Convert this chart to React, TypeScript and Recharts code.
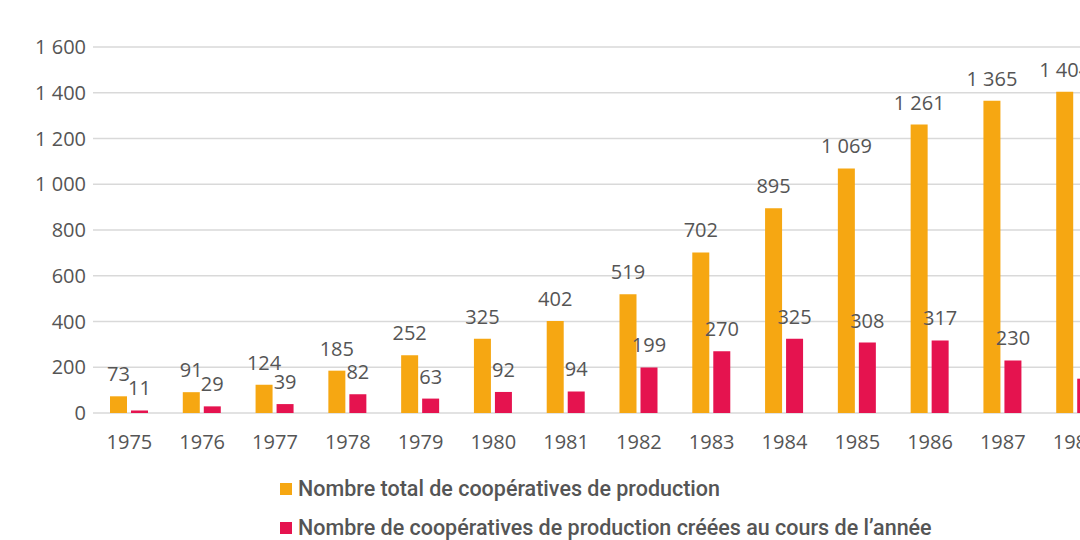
import { BarChart, Bar, XAxis, YAxis, CartesianGrid, LabelList } from 'recharts';

const years = ['1975', '1976', '1977', '1978', '1979', '1980', '1981', '1982', '1983', '1984', '1985', '1986', '1987', '1988'];
const totalCoops = [73, 91, 124, 185, 252, 325, 402, 519, 702, 895, 1069, 1261, 1365, 1404];
const newCoops = [11, 29, 39, 82, 63, 92, 94, 199, 270, 325, 308, 317, 230, 150];
const yTicks = [0, 200, 400, 600, 800, 1000, 1200, 1400, 1600];

const ORANGE = '#f6a712';
const RED = '#e5134f';
const TEXT = '#555555';
const FONT = '"Open Sans", sans-serif';
const FS = 20;

const data = years.map((year, i) => ({ year, total: totalCoops[i], created: newCoops[i] }));

// french style thousands with a no-break space: "1 600"
const fmt = (v: number | string) => String(v).replace(/\B(?=(\d{3})+(?!\d))/g, '\u00A0');

const legendItems = [
  { label: 'Nombre total de coopératives de production', color: ORANGE },
  { label: 'Nombre de coopératives de production créées au cours de l’année', color: RED },
];

// value label above a bar; the last red one sits off the visible area in the original
const barLabel = (hideLast: boolean) => (props: any) => {
  const { x, y, width, value, index } = props;
  if (hideLast && index === years.length - 1) return null;
  return (
    <text x={x + width / 2} y={y - 15} textAnchor="middle" fill={TEXT} fontSize={FS} fontFamily={FONT}>
      {fmt(value)}
    </text>
  );
};

export default function App() {
  return (
    <div style={{ position: 'absolute', left: 0, top: 0, width: 1080, height: 540, overflow: 'hidden', background: '#fff' }}>
      <BarChart
        width={1120}
        height={463}
        data={data}
        margin={{ top: 47, right: 8, left: 0, bottom: 0 }}
        barGap={4}
        barCategoryGap={0}
      >
        <CartesianGrid vertical={false} stroke="#d9d9d9" strokeWidth={1.5} />
        <XAxis
          dataKey="year"
          axisLine={false}
          tickLine={false}
          tickSize={0}
          tickMargin={22}
          height={50}
          tick={{ fill: TEXT, fontSize: FS, fontFamily: FONT }}
        />
        <YAxis
          domain={[0, 1600]}
          ticks={yTicks}
          width={93}
          axisLine={false}
          tickLine={false}
          tickSize={0}
          tickMargin={7}
          tickFormatter={fmt}
          tick={{ fill: TEXT, fontSize: FS, fontFamily: FONT }}
        />
        <Bar dataKey="total" fill={ORANGE} barSize={17} isAnimationActive={false}>
          <LabelList dataKey="total" content={barLabel(false)} />
        </Bar>
        <Bar dataKey="created" fill={RED} barSize={17} isAnimationActive={false}>
          <LabelList dataKey="created" content={barLabel(true)} />
        </Bar>
      </BarChart>
      <div style={{ position: 'absolute', left: 280, top: 469, fontFamily: 'Roboto, sans-serif', fontWeight: 500, fontSize: 21.5, color: TEXT }}>
        {legendItems.map((item) => (
          <div key={item.label} style={{ display: 'flex', alignItems: 'center', height: 39, whiteSpace: 'nowrap' }}>
            <span style={{ width: 12, height: 12, background: item.color, marginRight: 6, display: 'inline-block' }} />
            <span>{item.label}</span>
          </div>
        ))}
      </div>
    </div>
  );
}
